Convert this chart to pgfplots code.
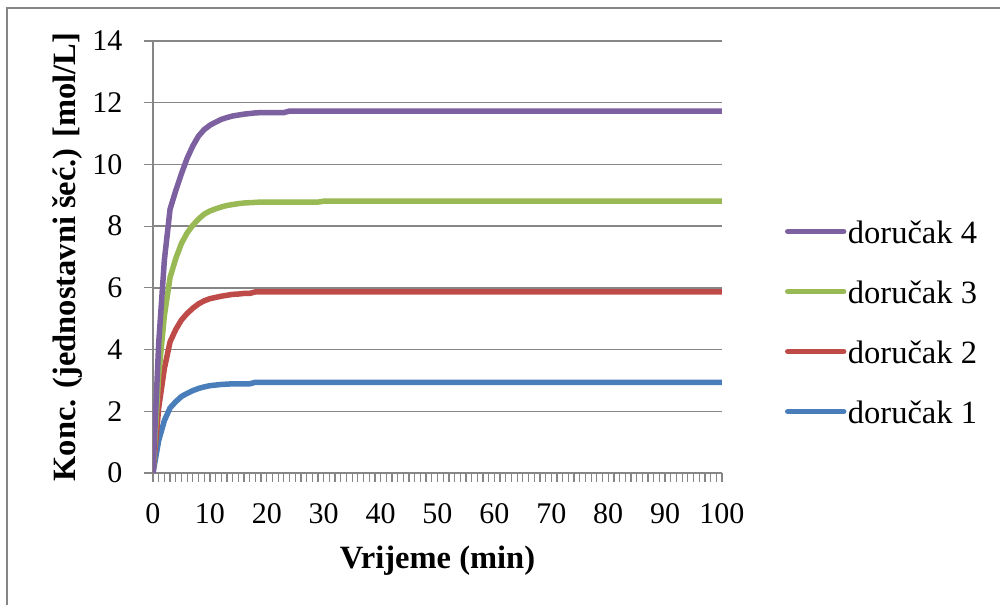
\documentclass[border=0pt]{standalone}
\usepackage{fontspec}
\setmainfont{Liberation Serif}
\usepackage{pgfplots}
\usepackage{pgfplotstable}
\pgfplotsset{compat=1.18}
\definecolor{cblue}{HTML}{4A7EBB}
\definecolor{cred}{HTML}{BE4B48}
\definecolor{cgreen}{HTML}{98B954}
\definecolor{cpurple}{HTML}{7D60A0}
\definecolor{cgrid}{HTML}{868686}
\pgfplotstableread{
t b r g p
0 0 0 0 0
1 1.05 2.10 3.17 4.20
2 1.70 3.39 5.10 6.90
3 2.11 4.25 6.34 8.55
4 2.31 4.65 6.95 9.15
5 2.48 4.96 7.44 9.70
6 2.58 5.17 7.78 10.20
7 2.67 5.34 8.03 10.60
8 2.74 5.48 8.23 10.92
9 2.79 5.58 8.39 11.13
10 2.83 5.65 8.49 11.27
11 2.85 5.69 8.56 11.37
12 2.87 5.73 8.62 11.46
13 2.88 5.76 8.67 11.52
14 2.89 5.79 8.70 11.57
15 2.89 5.80 8.73 11.60
16 2.89 5.82 8.75 11.63
17 2.89 5.82 8.76 11.65
18 2.94 5.87 8.77 11.67
19 2.94 5.87 8.78 11.68
20 2.94 5.87 8.78 11.68
23 2.94 5.87 8.78 11.68
24 2.94 5.87 8.78 11.73
29 2.94 5.87 8.78 11.73
30 2.94 5.87 8.81 11.73
100 2.94 5.87 8.81 11.73
}\data
\begin{document}
\begin{tikzpicture}
\useasboundingbox (-61.2pt,-52.8pt) rectangle (338.8pt,189.2pt);
\draw[color=cgrid, line width=1pt] (-58.4pt,-52.8pt) -- (-58.4pt,186pt) -- (338.8pt,186pt);
\begin{axis}[
  at={(0pt,0pt)}, anchor=south west,
  width=227.6pt, height=172.8pt, scale only axis,
  xmin=0, xmax=100, ymin=0, ymax=14,
  axis x line*=bottom, axis y line*=left,
  xtick={0,10,...,100}, minor x tick num=9,
  ytick={0,2,...,14},
  tick align=outside,
  major tick length=3.5pt, minor tick length=3.5pt,
  tick style={color=cgrid, line width=0.5pt},
  ymajorgrids, grid style={color=cgrid, line width=0.6pt},
  axis line style={color=cgrid, line width=0.6pt},
  ticklabel style={font=\fontsize{12}{12}\selectfont},
  xticklabel style={anchor=north, yshift=-5.2pt},
  yticklabel style={anchor=east, xshift=-5.2pt},
  /pgf/number format/assume math mode=true,
  legend style={at={(axis description cs:1.0966,0.596)}, anchor=north west, draw=none, fill=none,
    font=\fontsize{13}{13}\selectfont, row sep=12pt,
    nodes={inner sep=0pt, text height=9pt, text depth=3pt}},
  legend cell align=left,
  legend image code/.code={\draw[#1, line cap=round] (0pt,1.8pt) -- (22.4pt,1.8pt);},
  reverse legend,
  every axis plot/.append style={line width=2.2pt, line join=round},
]
\addplot[cblue, no marks] table[x=t,y=b] {\data};
\addlegendentry{\hspace{0.6pt}doručak 1}
\addplot[cred, no marks] table[x=t,y=r] {\data};
\addlegendentry{\hspace{0.6pt}doručak 2}
\addplot[cgreen, no marks] table[x=t,y=g] {\data};
\addlegendentry{\hspace{0.6pt}doručak 3}
\addplot[cpurple, no marks] table[x=t,y=p] {\data};
\addlegendentry{\hspace{0.6pt}doručak 4}
\end{axis}
\node[font=\fontsize{13}{13}\selectfont\bfseries, anchor=center] at (113.8pt,-35.2pt) {Vrijeme (min)};
\node[font=\fontsize{13}{13}\selectfont\bfseries, anchor=center, rotate=90] at (-34pt,86.4pt) {Konc. (jednostavni šeć.) [mol/L]};
\end{tikzpicture}
\end{document}
